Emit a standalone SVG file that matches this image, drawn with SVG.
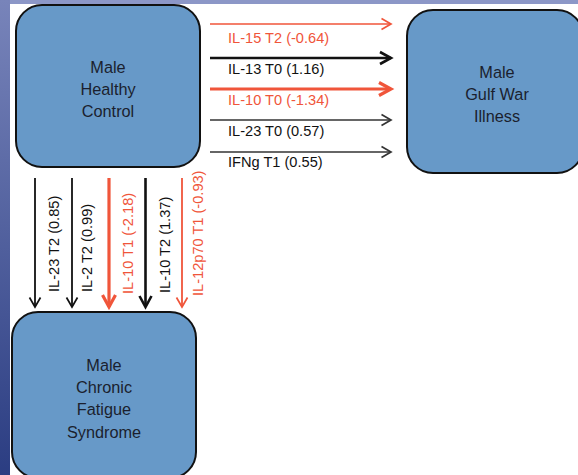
<svg xmlns="http://www.w3.org/2000/svg" width="578" height="475" viewBox="0 0 578 475">
  <defs>
    <linearGradient id="side" x1="0" y1="0" x2="0" y2="1">
      <stop offset="0" stop-color="#7884ba"/>
      <stop offset="1" stop-color="#2b3d82"/>
    </linearGradient>
    <marker id="hbS" markerUnits="userSpaceOnUse" markerWidth="20" markerHeight="20" viewBox="0 0 20 20" refX="12" refY="10" orient="auto" overflow="visible">
      <path d="M2.5,4.5 L12,10 L2.5,15.5" fill="none" stroke="#111" stroke-width="1.7"/>
    </marker>
    <marker id="hbM" markerUnits="userSpaceOnUse" markerWidth="20" markerHeight="20" viewBox="0 0 20 20" refX="13" refY="10" orient="auto" overflow="visible">
      <path d="M2,4 L13,10 L2,16" fill="none" stroke="#111" stroke-width="2.6"/>
    </marker>
    <marker id="hrS" markerUnits="userSpaceOnUse" markerWidth="20" markerHeight="20" viewBox="0 0 20 20" refX="12" refY="10" orient="auto" overflow="visible">
      <path d="M2.5,4.5 L12,10 L2.5,15.5" fill="none" stroke="#f0553a" stroke-width="1.7"/>
    </marker>
    <marker id="hrL" markerUnits="userSpaceOnUse" markerWidth="20" markerHeight="20" viewBox="0 0 20 20" refX="13" refY="10" orient="auto" overflow="visible">
      <path d="M1,3.5 L13,10 L1,16.5" fill="none" stroke="#f0553a" stroke-width="3.2"/>
    </marker>
  </defs>
  <style>
    .box { fill: #6799c8; stroke: #111; stroke-width: 2; }
    .nt { font-family: "Liberation Sans", Arial, sans-serif; font-size: 16.3px; fill: #1b1f2e; text-anchor: middle; }
    .lb { font-family: "Liberation Sans", Arial, sans-serif; font-size: 14.6px; }
    .blk { fill: #111; }
    .red { fill: #f0553a; }
    .ab { fill: none; stroke: #111; }
    .ar { fill: none; stroke: #f0553a; }
  </style>
  <rect x="0" y="0" width="578" height="475" fill="#ffffff"/>
  <rect x="0" y="0" width="578" height="4" fill="#8c97c7"/>
  <rect x="0" y="0" width="10" height="475" fill="url(#side)"/>

  <g id="healthy">
    <rect class="box" x="16" y="5" width="184" height="162" rx="26" ry="26"/>
    <text class="nt" x="108" y="72.5">Male</text>
    <text class="nt" x="108" y="95">Healthy</text>
    <text class="nt" x="108" y="117">Control</text>
  </g>
  <g id="gwi">
    <rect class="box" x="407" y="10" width="176" height="163" rx="26" ry="26"/>
    <text class="nt" x="497" y="78">Male</text>
    <text class="nt" x="497" y="100">Gulf War</text>
    <text class="nt" x="497" y="122">Illness</text>
  </g>
  <g id="cfs">
    <rect class="box" x="12" y="312" width="184" height="166" rx="26" ry="26"/>
    <text class="nt" x="104" y="371">Male</text>
    <text class="nt" x="104" y="393">Chronic</text>
    <text class="nt" x="104" y="415">Fatigue</text>
    <text class="nt" x="104" y="438">Syndrome</text>
  </g>

  <g id="connectors">
    <line class="ar" x1="210" y1="24" x2="391" y2="24" stroke-width="1.6" marker-end="url(#hrS)"/>
    <line class="ab" x1="210" y1="58" x2="391" y2="58" stroke-width="2.6" marker-end="url(#hbM)"/>
    <line class="ar" x1="210" y1="89" x2="391" y2="89" stroke-width="3.2" marker-end="url(#hrL)"/>
    <line class="ab" x1="210" y1="120" x2="391" y2="120" stroke-width="1.6" marker-end="url(#hbS)" opacity="0.85"/>
    <line class="ab" x1="210" y1="152" x2="391" y2="152" stroke-width="1.6" marker-end="url(#hbS)" opacity="0.85"/>

    <line class="ab" x1="35" y1="178" x2="35" y2="307" stroke-width="1.8" marker-end="url(#hbS)"/>
    <line class="ab" x1="72" y1="178" x2="72" y2="307" stroke-width="1.8" marker-end="url(#hbS)"/>
    <line class="ar" x1="109" y1="178" x2="109" y2="307" stroke-width="3.2" marker-end="url(#hrL)"/>
    <line class="ab" x1="145.5" y1="178" x2="145.5" y2="307" stroke-width="2.6" marker-end="url(#hbM)"/>
    <line class="ar" x1="182" y1="178" x2="182" y2="307" stroke-width="1.8" marker-end="url(#hrS)"/>

    <text class="lb red" x="228" y="42.5">IL-15 T2 (-0.64)</text>
    <text class="lb blk" x="228" y="74">IL-13 T0 (1.16)</text>
    <text class="lb red" x="228" y="105">IL-10 T0 (-1.34)</text>
    <text class="lb blk" x="228" y="136">IL-23 T0 (0.57)</text>
    <text class="lb blk" x="228" y="167">IFNg T1 (0.55)</text>

    <text class="lb blk" transform="translate(58.5,292) rotate(-90)">IL-23 T2 (0.85)</text>
    <text class="lb blk" transform="translate(92,292) rotate(-90)">IL-2 T2 (0.99)</text>
    <text class="lb red" transform="translate(133,294) rotate(-90)">IL-10 T1 (-2.18)</text>
    <text class="lb blk" transform="translate(170,293) rotate(-90)">IL-10 T2 (1.37)</text>
    <text class="lb red" transform="translate(203,296) rotate(-90)">IL-12p70 T1 (-0.93)</text>
  </g>
</svg>
